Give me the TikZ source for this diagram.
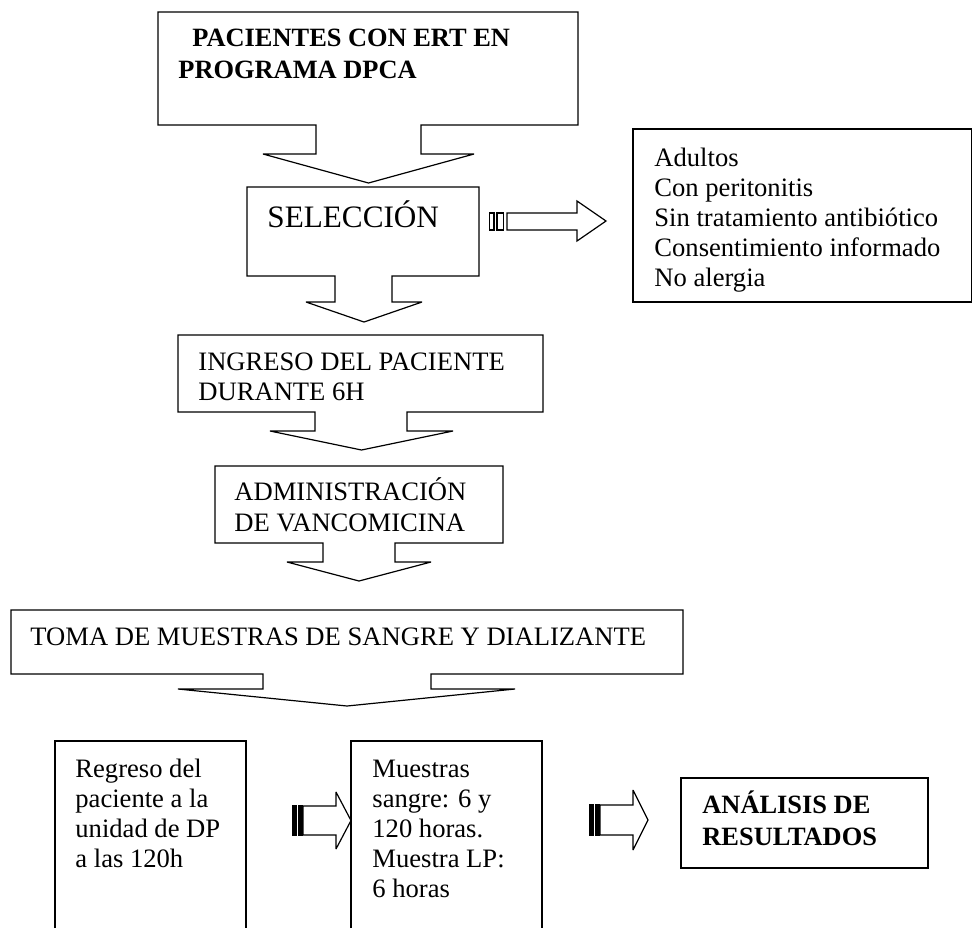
\documentclass[tikz,border=0pt]{standalone}
\usepackage{fontspec}
\setmainfont{Liberation Serif}
\begin{document}
\begin{tikzpicture}[x=0.5pt,y=-0.5pt,
  outline/.style={draw=black, line width=0.6pt, fill=white, line join=miter, miter limit=3},
  stripe/.style={draw=black, line width=0.7pt, fill=white},
  heavystripe/.style={draw=black, line width=1pt, fill=black},
  txt/.style={anchor=base west, inner sep=0pt, font=\fontsize{13.3}{15}\selectfont},
  btxt/.style={anchor=base west, inner sep=0pt, font=\fontsize{13.2}{16}\selectfont\bfseries},
  bigtxt/.style={anchor=base west, inner sep=0pt, font=\fontsize{15.6}{18}\selectfont}]
\useasboundingbox (0,0) rectangle (973,928);

% --- down-arrow callouts of the main column ---
\draw[outline] (158,12) -- (578,12) -- (578,125) -- (421,125) -- (421,154) -- (474,154)
  -- (368.5,183) -- (263,154) -- (316,154) -- (316,125) -- (158,125) -- cycle;
\node[btxt] (pacientes) at (178,46)
  {\vtop{\baselineskip=16pt\hbox{\hspace{7pt}PACIENTES CON ERT EN}\hbox{PROGRAMA DPCA}}};

\draw[outline] (247,187) -- (479,187) -- (479,276) -- (392,276) -- (392,302) -- (422,302)
  -- (364,322) -- (306,302) -- (335,302) -- (335,276) -- (247,276) -- cycle;
\node[bigtxt] (seleccion) at (267,227) {SELECCIÓN};

\draw[outline] (178,335) -- (543,335) -- (543,412) -- (407,412) -- (407,431) -- (453,431)
  -- (361.5,450) -- (270,431) -- (315,431) -- (315,412) -- (178,412) -- cycle;
\node[txt] (ingreso) at (198,370)
  {\vtop{\baselineskip=15pt\hbox{INGRESO DEL PACIENTE}\hbox{DURANTE 6H}}};

\draw[outline] (215,466) -- (503,466) -- (503,543) -- (395,543) -- (395,562) -- (431,562)
  -- (359,581) -- (287,562) -- (323,562) -- (323,543) -- (215,543) -- cycle;
\node[txt] (admin) at (234,500)
  {\vtop{\baselineskip=15.5pt\hbox{ADMINISTRACIÓN}\hbox{DE VANCOMICINA}}};

\draw[outline] (11,610) -- (683,610) -- (683,674) -- (431,674) -- (431,689) -- (515,689)
  -- (347,706) -- (178,689) -- (263,689) -- (263,674) -- (11,674) -- cycle;
\node[txt] (toma) at (30,645) {TOMA DE MUESTRAS DE SANGRE Y DIALIZANTE};

% --- selection criteria ---
\draw[outline] (633,129) rectangle (971.5,302);
\node[txt] (criterios) at (654,166)
  {\vtop{\baselineskip=15pt\hbox{Adultos}\hbox{Con peritonitis}\hbox{Sin tratamiento antibiótico}%
   \hbox{Consentimiento informado}\hbox{No alergia}}};

% striped arrow towards the criteria
\draw[stripe] (489.5,213) rectangle (494,230);
\draw[stripe] (497,213) rectangle (503.5,230);
\draw[outline] (507,213) -- (577,213) -- (577,201) -- (606,221) -- (577,241) -- (577,230)
  -- (507,230) -- cycle;

% --- bottom row ---
\draw[outline] (55,928) -- (55,741) -- (246,741) -- (246,928);
\node[txt] (regreso) at (75,777)
  {\vtop{\baselineskip=15pt\hbox{Regreso del}\hbox{paciente a la}\hbox{unidad de DP}\hbox{a las 120h}}};

\draw[outline] (351,928) -- (351,741) -- (542,741) -- (542,928);
\node[txt] (muestras) at (372,777)
  {\vtop{\baselineskip=15pt\hbox{Muestras}\hbox{sangre: 6 y}\hbox{120 horas.}\hbox{Muestra LP:}\hbox{6 horas}}};

\draw[outline] (681,778) rectangle (928,868);
\node[btxt] (analisis) at (702,813)
  {\vtop{\baselineskip=16pt\hbox{ANÁLISIS DE}\hbox{RESULTADOS}}};

% striped arrows between the bottom boxes
\draw[heavystripe] (293,806) rectangle (296,835);
\draw[heavystripe] (299,806) rectangle (302,835);
\draw[outline] (303,806) -- (336,806) -- (336,792) -- (351,820.5) -- (336,849) -- (336,835)
  -- (303,835) -- cycle;

\draw[heavystripe] (589.5,805) rectangle (592.5,835);
\draw[heavystripe] (595.5,805) rectangle (598.5,835);
\draw[outline] (600,805) -- (633,805) -- (633,790) -- (648,820) -- (633,850) -- (633,835)
  -- (600,835) -- cycle;
\end{tikzpicture}
\end{document}
